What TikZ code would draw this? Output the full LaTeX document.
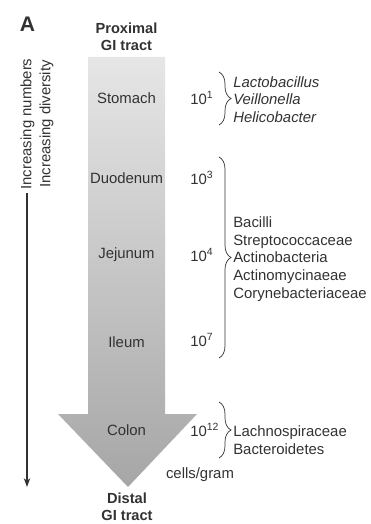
\documentclass[tikz,border=0pt]{standalone}
\usepackage{fontspec}
\setmainfont{Liberation Sans}
\usepackage{tikz}
\usetikzlibrary{positioning, arrows.meta, calc, decorations.pathreplacing}
\definecolor{ink}{RGB}{50,50,50}
\definecolor{tractlight}{RGB}{230,230,230}
\definecolor{tractdark}{RGB}{166,166,166}
\tikzset{
  region/.style={
    font=\fontsize{10.6}{12.6}\selectfont, text=ink, inner sep=0pt
  },
  count/.style={region, anchor=west},
  taxa/.style={region, anchor=west, align=left},
  heading/.style={
    font=\fontsize{10.4}{12}\selectfont\bfseries, text=ink,
    align=center, inner sep=0pt
  },
  taxonbrace/.style={draw=ink, line width=0.5pt, decorate,
    decoration={brace, amplitude=3mm}},
}

\begin{document}
\begin{tikzpicture}[x=0.025cm, y=-0.025cm]
  \useasboundingbox (0,0) rectangle (370,524);
  \shade[top color=tractlight, bottom color=tractdark]
    (88,57) -- (165,57) -- (165,414) -- (197,414) -- (128,487)
    -- (58,414) -- (88,414) -- cycle;

  \node[font=\fontsize{15}{15}\selectfont\bfseries, text=ink, inner sep=0pt] (panel) at (27.5,24.5) {A};
  \node[heading] (proximal) at (126.5,37) {Proximal\\GI tract};
  \node[heading] (distal) at (127,507) {Distal\\GI tract};
  \node[region, rotate=90, align=center, font=\fontsize{10.6}{13.5}\selectfont] (trend) at (37,124)
    {Increasing numbers\\Increasing diversity};

  \node[region] (stomach) at (126.5,98) {Stomach};
  \node[region] (duodenum) at (126.5,178) {Duodenum};
  \node[region] (jejunum) at (126.5,255) {Jejunum};
  \node[region] (ileum) at (126.5,342) {Ileum};
  \node[region] (colon) at (126.5,430) {Colon};

  \node[count] (n1) at (190,98) {10\textsuperscript{1}};
  \node[count] (n3) at (190,178) {10\textsuperscript{3}};
  \node[count] (n4) at (190,255) {10\textsuperscript{4}};
  \node[count] (n7) at (190,340) {10\textsuperscript{7}};
  \node[count] (n12) at (190,430) {10\textsuperscript{12}};
  \node[region] (units) at (200,475) {cells/gram};

  \node[taxa, font=\fontsize{10.6}{12.4}\selectfont\itshape] (upper) at (233,99.5)
    {Lactobacillus\\Veillonella\\Helicobacter};
  \node[taxa] (middle) at (233,259)
    {Bacilli\\Streptococcaceae\\Actinobacteria\\Actinomycinaeae\\Corynebacteriaceae};
  \node[taxa] (lower) at (233,440) {Lachnospiraceae\\Bacteroidetes};

  \coordinate (b1top) at (219,72);
  \coordinate (b1bot) at (219,125);
  \coordinate (b2top) at (219,157);
  \coordinate (b2bot) at (219,358);
  \coordinate (b3top) at (219,402);
  \coordinate (b3bot) at (219,458);
  \draw[taxonbrace] (b1top) -- (b1bot);
  \draw[taxonbrace] (b2top) -- (b2bot);
  \draw[taxonbrace] (b3top) -- (b3bot);

  \coordinate (trendtop) at (27,193);
  \coordinate (trendtip) at (27,487);
  \draw[ink, line width=0.9pt, -{Stealth[length=2.2mm, width=1.6mm]}] (trendtop) -- (trendtip);
\end{tikzpicture}
\end{document}
